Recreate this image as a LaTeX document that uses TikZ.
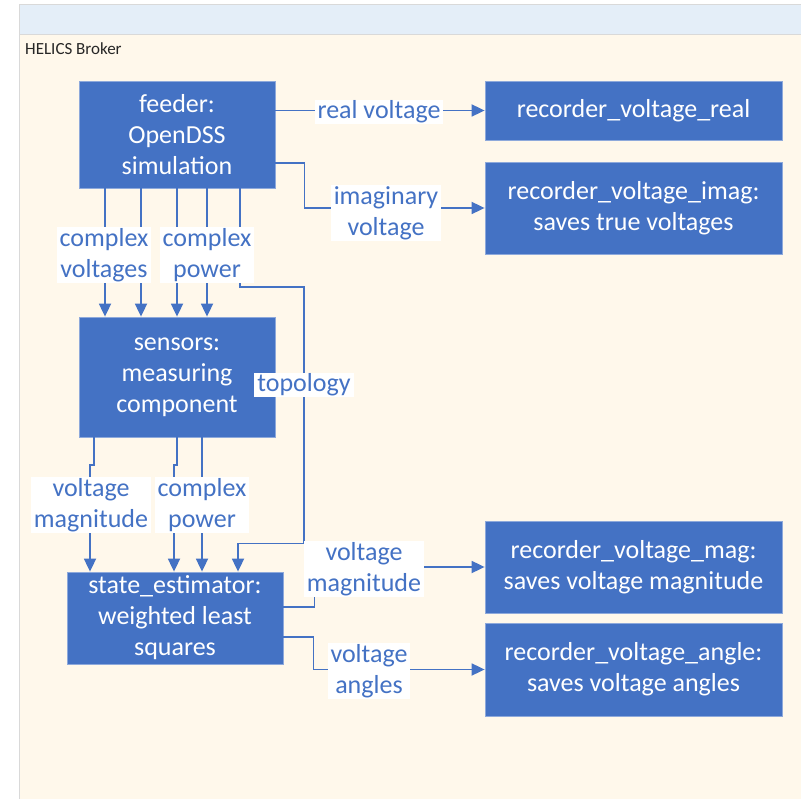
\documentclass[tikz,border=0pt]{standalone}
\usepackage{fontspec}
\setmainfont{Carlito}
\usepackage{xcolor}
\usetikzlibrary{arrows.meta, positioning}
\definecolor{boxblue}{HTML}{4472C4}
\definecolor{boxedge}{HTML}{8EA9DB}
\definecolor{panelbg}{HTML}{FFF8EB}
\definecolor{headbg}{HTML}{E4EEF8}
\definecolor{rulegray}{HTML}{D9D9D9}
\definecolor{brokertext}{HTML}{262626}

\begin{document}
\begin{tikzpicture}[
        x=1pt, y=-1pt,
        block/.style={draw=boxedge, line width=0.8pt, fill=boxblue, text=white, align=center,
            inner sep=0pt, font=\fontsize{26}{31}\selectfont},
        lbl/.style={fill=white, text=boxblue, align=center, inner xsep=3pt, inner ysep=1pt,
            yshift=-2pt, font=\fontsize{26}{31}\selectfont},
        wire/.style={draw=boxblue, line width=1.8pt, -{Triangle[length=13pt, width=12pt]}}
        ]
        \useasboundingbox (0,0) rectangle (801,799);

        % Broker panel
        \fill[panelbg] (19,34) rectangle (801,799);
        \fill[headbg] (19,4) rectangle (801,34);
        \draw[rulegray, line width=0.8pt] (19,799) -- (19,4) -- (801,4);
        \draw[rulegray, line width=0.8pt] (19,34) -- (801,34);
        \node[anchor=base west, inner sep=0pt, text=brokertext, font=\fontsize{17}{20}\selectfont] (broker) at (25,55) {HELICS Broker};

        % Nodes
        \node[block, minimum width=196pt, minimum height=107pt] (feeder) at (177,134.5) {feeder:\\OpenDSS\\simulation};
        \node[block, minimum width=196pt, minimum height=120pt] (sensors) at (177,377) {sensors:\\measuring\\component};
        \node[block, minimum width=216pt, minimum height=92pt] (estimator) at (175,618) {state\_estimator:\\weighted least\\squares};
        \node[block, minimum width=297pt, minimum height=59pt] (recreal) at (633.5,110.5) {recorder\_voltage\_real};
        \node[block, minimum width=297pt, minimum height=92pt] (recimag) at (633.5,208) {recorder\_voltage\_imag:\\saves true voltages};
        \node[block, minimum width=297pt, minimum height=92pt] (recmag) at (633.5,567) {recorder\_voltage\_mag:\\saves voltage magnitude};
        \node[block, minimum width=297pt, minimum height=93pt] (recangle) at (633.5,669.5) {recorder\_voltage\_angle:\\saves voltage angles};

        % Arrows
        \draw[wire] (feeder.east |- recreal.west) -- (recreal.west);
        \draw[wire] ([yshift=-28.5pt]feeder.east) -- ++(29,0) |- (recimag.west);
        \foreach \dx in {-72,-36,0,30}
            \draw[wire] ([xshift=\dx pt]feeder.south) -- ([xshift=\dx pt]sensors.north);
        \draw[wire] ([xshift=63pt]feeder.south) -- ++(0,99) -- ++(64,0) -- ++(0,256) -| ([xshift=63pt]estimator.north);
        \draw[wire] ([xshift=-83pt]sensors.south) -- ++(0,28) -- ++(-4,0) -- ([xshift=-85pt]estimator.north);
        \draw[wire] (sensors.south) -- ++(0,28) -- ++(-3,0) -- ([xshift=-1pt]estimator.north);
        \draw[wire] ([xshift=25pt]sensors.south) -- ([xshift=27pt]estimator.north);
        \draw[wire] ([yshift=11pt]estimator.east) -- ++(31,0) |- (recmag.west);
        \draw[wire] ([yshift=-19pt]estimator.east) -- ++(30,0) |- (recangle.west);

        % Labels
        \node[lbl] (realv) at (379,110) {real voltage};
        \node[lbl] (imagv) at (386,211) {imaginary\\voltage};
        \node[lbl] (cvolt) at (104,253) {complex\\voltages};
        \node[lbl] (cpowa) at (207,253) {complex\\power};
        \node[lbl] (topo) at (304,383) {topology};
        \node[lbl] (vmaga) at (91,503) {voltage\\magnitude};
        \node[lbl] (cpowb) at (202,503) {complex\\power};
        \node[lbl] (vmagb) at (364,567) {voltage\\magnitude};
        \node[lbl] (vang) at (369,669) {voltage\\angles};
\end{tikzpicture}
\end{document}
